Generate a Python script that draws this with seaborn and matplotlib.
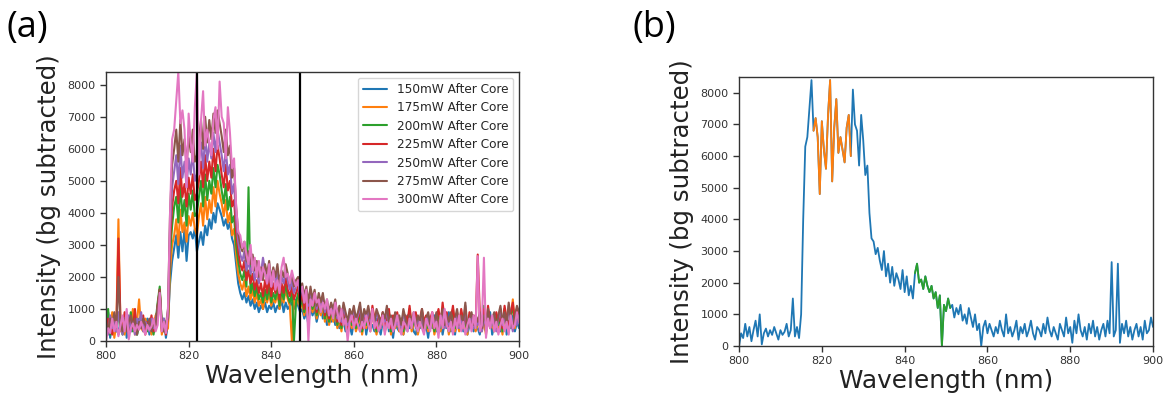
import numpy as np
import pandas as pd
import matplotlib
matplotlib.use("Agg")
import matplotlib.pyplot as plt
import seaborn as sns

# ---------------- data ----------------
wl_start, wl_stop, wl_step = 800.0, 900.0, 0.5
wavelength = np.arange(wl_start, wl_stop + wl_step / 2, wl_step)

labels = ["150mW After Core", "175mW After Core", "200mW After Core",
          "225mW After Core", "250mW After Core", "275mW After Core",
          "300mW After Core"]

p150 = [300, 900, 100, 600, 400, 700, 200, 500, 300, 800,
        100, 600, 300, 900, 500, 200, 700, 400, 600, 300,
        700, 200, 500, 300, 600, 1000, 1500, 400, 700, 100,
        600, 1800, 2500, 2900, 3300, 2600, 3400, 2800, 3500, 2500,
        3300, 3400, 3200, 3500, 2800, 3100, 3400, 3000, 3600, 3300,
        3800, 3500, 4000, 3700, 4300, 4100, 3900, 3600, 3800, 3500,
        3700, 3200, 3000, 2400, 1800, 1500, 1300, 1500, 1200, 1400,
        1100, 1300, 1000, 1200, 900, 1100, 1000, 1200, 900, 1100,
        1000, 1200, 900, 1100, 1000, 1300, 900, 1200, 1000, 1100,
        1200, 1000, 1300, 1100, 900, 1000, 700, 900, 500, 1100,
        800, 1000, 600, 900, 1100, 700, 900, 500, 800, 600,
        900, 500, 700, 400, 800, 600, 300, 700, 500, 200,
        600, 400, 700, 300, 500, 800, 200, 600, 400, 500,
        300, 700, 500, 200, 600, 400, 800, 300, 500, 100,
        600, 400, 300, 700, 200, 500, 800, 400, 600, 300,
        200, 600, 400, 700, 300, 500, 100, 600, 400, 800,
        300, 500, 700, 200, 600, 400, 900, 300, 500, 200,
        700, 400, 600, 300, 800, 200, 500, 700, 300, 600,
        400, 200, 700, 500, 300, 600, 900, 200, 500, 400,
        700, 300, 600, 1000, 200, 500, 400, 800, 300, 600,
        400]

p175 = [200, 600, 400, 900, 100, 500, 3800, 300, 700, 200,
        800, 300, 500, 1000, 200, 600, 1300, 400, 300, 700,
        400, 600, 200, 500, 800, 900, 1600, 200, 500, 300,
        400, 2200, 3000, 3300, 3800, 3000, 4100, 3400, 3700, 3100,
        3900, 3600, 4000, 3500, 3300, 3900, 4300, 3600, 4500, 3800,
        4400, 4000, 4800, 4200, 5000, 4600, 4300, 3900, 4400, 3700,
        4000, 3300, 3500, 2700, 2100, 1800, 1600, 1900, 1400, 1700,
        1300, 1600, 1200, 1500, 1100, 1300, 1000, 1400, 1200, 1500,
        1100, 1300, 1200, 1500, 1000, 1400, 1200, 1600, 1300, 1100,
        0, 1300, 1100, 1400, 1000, 1200, 800, 1100, 700, 1200,
        900, 1200, 700, 1000, 800, 1100, 600, 900, 500, 800,
        600, 900, 400, 700, 300, 800, 500, 200, 600, 400,
        700, 300, 500, 800, 200, 600, 400, 700, 300, 900,
        500, 200, 600, 400, 700, 300, 500, 800, 200, 600,
        400, 700, 300, 500, 200, 600, 400, 900, 300, 500,
        700, 200, 500, 800, 400, 600, 300, 500, 700, 200,
        500, 800, 300, 600, 400, 700, 200, 500, 900, 300,
        600, 300, 800, 400, 500, 200, 700, 400, 600, 300,
        500, 700, 300, 600, 200, 800, 400, 500, 300, 700,
        400, 600, 200, 900, 500, 300, 700, 1300, 400, 800,
        600]

p200 = [400, 1000, 200, 700, 500, 300, 800, 600, 200, 500,
        700, 400, 900, 300, 600, 200, 500, 800, 400, 600,
        300, 500, 700, 200, 600, 1200, 1700, 500, 300, 600,
        700, 2700, 3600, 4200, 4500, 3700, 4900, 3900, 4400, 3600,
        4600, 4100, 4700, 3900, 4000, 4500, 5000, 4200, 5200, 4400,
        5000, 4600, 5400, 4800, 5500, 5200, 4700, 4300, 4900, 4100,
        4500, 3700, 3900, 3000, 2500, 2100, 1900, 2200, 1700, 4800,
        1500, 1800, 1400, 1700, 1300, 1500, 1200, 1600, 1300, 1700,
        1200, 1500, 1300, 1700, 1100, 1600, 1300, 1800, 1400, 1200,
        1500, 0, 1200, 1500, 1100, 1300, 900, 1200, 800, 1300,
        1000, 1300, 800, 1100, 900, 1200, 700, 1000, 600, 900,
        700, 1000, 500, 800, 400, 900, 600, 300, 700, 500,
        800, 400, 600, 900, 300, 700, 500, 800, 400, 1000,
        600, 300, 700, 500, 800, 400, 600, 900, 300, 700,
        500, 800, 400, 600, 300, 700, 500, 1000, 400, 600,
        800, 300, 600, 900, 500, 700, 400, 600, 800, 300,
        600, 900, 400, 700, 500, 800, 300, 600, 1000, 400,
        700, 400, 900, 500, 600, 300, 800, 500, 700, 400,
        600, 800, 400, 1100, 300, 900, 500, 600, 400, 800,
        500, 700, 300, 1000, 600, 400, 800, 1100, 500, 900,
        700]

p225 = [300, 700, 500, 200, 800, 400, 3200, 600, 300, 900,
        500, 200, 700, 400, 1000, 300, 600, 500, 800, 200,
        600, 400, 800, 300, 500, 1100, 1600, 300, 600, 200,
        800, 3100, 4200, 4700, 5000, 4300, 5400, 4500, 4900, 4200,
        5100, 4600, 5200, 4400, 4600, 5000, 5600, 4800, 5800, 5000,
        5600, 5100, 6000, 5300, 6100, 5700, 5200, 4800, 5500, 4700,
        5000, 4200, 4400, 3400, 2800, 2400, 2200, 2500, 1900, 2200,
        1800, 2100, 1600, 1900, 1500, 1800, 1400, 1900, 1500, 2000,
        1400, 1800, 1500, 1900, 1300, 1800, 1500, 2000, 1600, 1400,
        1700, 1300, 1500, 1700, 1200, 1500, 1000, 1400, 900, 1500,
        1100, 1400, 900, 1200, 1000, 1300, 800, 1100, 700, 1000,
        800, 1100, 600, 900, 500, 1000, 700, 400, 800, 600,
        900, 500, 700, 1000, 400, 800, 600, 900, 500, 1100,
        700, 400, 800, 600, 900, 500, 700, 1000, 400, 800,
        600, 900, 500, 700, 400, 800, 600, 1100, 500, 700,
        900, 400, 700, 1000, 600, 800, 500, 700, 900, 400,
        700, 1000, 500, 1200, 600, 900, 400, 700, 1100, 500,
        800, 500, 1000, 600, 700, 400, 900, 600, 800, 500,
        2700, 900, 500, 1000, 400, 1100, 600, 700, 500, 900,
        600, 800, 400, 1100, 700, 500, 900, 1200, 600, 1000,
        800]

p250 = [500, 200, 800, 400, 600, 300, 900, 500, 200, 700,
        400, 800, 300, 600, 200, 700, 500, 900, 300, 600,
        500, 300, 700, 400, 600, 1000, 1500, 400, 700, 300,
        900, 3500, 4800, 5300, 5800, 4900, 6100, 5100, 5600, 4800,
        5700, 5200, 5900, 5000, 5200, 5600, 6200, 5400, 6400, 5600,
        6200, 5700, 6500, 5900, 6600, 6200, 5800, 5300, 6000, 5200,
        5500, 4600, 4900, 3800, 3100, 2700, 2500, 2800, 2200, 2500,
        2100, 2400, 1900, 2200, 1800, 2100, 2600, 2200, 1800, 2300,
        1700, 2100, 1800, 2200, 1600, 2000, 1800, 2200, 1900, 1600,
        1900, 1500, 1700, 1900, 1400, 1700, 1200, 1500, 1100, 1600,
        1200, 1500, 1000, 1300, 1100, 1400, 900, 1200, 800, 1100,
        900, 1200, 700, 1000, 600, 1100, 800, 500, 900, 700,
        1000, 600, 800, 1100, 500, 900, 700, 1000, 600, 800,
        500, 900, 700, 400, 800, 600, 1000, 500, 700, 300,
        800, 500, 700, 400, 900, 600, 300, 700, 500, 800,
        400, 700, 500, 900, 300, 600, 800, 400, 700, 500,
        800, 300, 600, 900, 400, 700, 500, 800, 300, 600,
        900, 400, 700, 500, 1100, 300, 600, 800, 400, 700,
        500, 800, 300, 700, 500, 900, 400, 600, 800, 300,
        700, 1000, 500, 800, 400, 1100, 600, 300, 700, 500,
        800]

p275 = [600, 300, 700, 500, 900, 400, 2000, 500, 300, 700,
        300, 600, 800, 400, 700, 200, 600, 400, 700, 500,
        400, 700, 300, 600, 400, 1100, 1600, 600, 300, 500,
        1000, 4000, 5500, 6000, 6600, 5600, 6900, 5800, 6300, 5500,
        6400, 5900, 6600, 5600, 5800, 6300, 6900, 6000, 7000, 6200,
        6900, 6300, 7100, 6500, 7200, 6800, 6400, 5900, 6600, 5800,
        6100, 5100, 5400, 4200, 3400, 3000, 2800, 3100, 2500, 2800,
        2400, 2700, 2200, 2500, 2000, 2300, 1900, 2400, 2100, 2500,
        1900, 2300, 2000, 2400, 1800, 2200, 2000, 2400, 2100, 1800,
        2100, 1700, 1900, 2000, 1600, 1800, 1400, 1700, 1200, 1700,
        1300, 1600, 1100, 1500, 1200, 1500, 1000, 1300, 900, 1200,
        1000, 1300, 800, 1100, 700, 1200, 900, 600, 1000, 800,
        1100, 700, 900, 1200, 600, 1000, 800, 1100, 700, 900,
        600, 1000, 800, 500, 900, 700, 1100, 600, 800, 400,
        900, 600, 800, 500, 1000, 700, 400, 800, 600, 900,
        500, 800, 600, 1000, 400, 700, 900, 500, 800, 600,
        900, 400, 700, 1000, 500, 800, 600, 900, 400, 700,
        1000, 500, 800, 600, 1200, 400, 700, 900, 500, 800,
        600, 900, 400, 800, 600, 1000, 500, 700, 900, 400,
        800, 1100, 600, 900, 500, 1200, 700, 400, 800, 1100,
        900]

p300 = [0, 400, 250, 700, 300, 600, 150, 500, 800, 300,
        1000, 50, 400, 550, 300, 500, 350, 600, 400, 200,
        500, 350, 450, 700, 300, 500, 1500, 300, 600, 250,
        1000, 4000, 6300, 6600, 7500, 8400, 6800, 7200, 6600, 4800,
        7100, 6200, 5600, 7300, 8400, 5200, 6900, 7800, 6100, 6600,
        6200, 5800, 6900, 7300, 6000, 8100, 7000, 6800, 5700, 7300,
        6500, 5400, 5700, 4200, 3400, 3300, 2900, 3100, 2700, 2400,
        3000, 2200, 2600, 2000, 2500, 1900, 2300, 2100, 1800, 2400,
        1700, 2200, 1600, 1900, 1500, 2300, 2600, 2000, 2100, 1800,
        2200, 1900, 1700, 1900, 1500, 1700, 1200, 1600, 0, 1300,
        1100, 1500, 1200, 1300, 900, 1200, 1000, 1300, 800, 1000,
        700, 1200, 900, 600, 1000, 500, 700, 0, 600, 800,
        400, 700, 500, 300, 600, 400, 800, 500, 300, 1000,
        400, 600, 300, 500, 800, 200, 600, 400, 700, 300,
        500, 800, 400, 200, 600, 500, 300, 700, 400, 900,
        500, 300, 600, 400, 200, 700, 500, 300, 900, 400,
        600, 100, 800, 400, 1000, 500, 300, 600, 200, 700,
        400, 800, 300, 600, 200, 500, 700, 300, 800, 400,
        2650, 300, 500, 2600, 100, 700, 400, 800, 300, 600,
        200, 500, 700, 300, 600, 200, 800, 400, 500, 900,
        600]

series_a = [p150, p175, p200, p225, p250, p275, p300]
cut_lines = [822, 847]              # vertical markers in panel (a)
orange_range = (818.0, 827.0)       # highlighted windows in panel (b)
green_range = (842.5, 851.0)
x_ticks = [800, 820, 840, 860, 880, 900]
y_ticks = [0, 1000, 2000, 3000, 4000, 5000, 6000, 7000, 8000]

# ---------------- style ----------------
sns.set_style("ticks")
plt.rcParams["font.family"] = ["DejaVu Sans"]
palette = sns.color_palette("tab10", 7)

fig = plt.figure(figsize=(11.64, 3.98), dpi=100)
axa = fig.add_axes([0.0911, 0.1432, 0.3548, 0.676])
axb = fig.add_axes([0.6349, 0.1307, 0.3557, 0.676])

# ---------------- panel (a) ----------------
for vals, lab, col in zip(series_a, labels, palette):
    df = pd.DataFrame({"Wavelength": wavelength, "Intensity": vals})
    sns.lineplot(data=df, x="Wavelength", y="Intensity", ax=axa, color=col,
                 lw=1.5, label=lab, sort=False, estimator=None)
for xv in cut_lines:
    axa.axvline(xv, color="black", lw=1.6)

axa.legend(loc="upper right", fontsize=8.7, frameon=True, handlelength=2.0,
           labelspacing=0.45, borderpad=0.4)

# ---------------- panel (b) ----------------
dfb = pd.DataFrame({"Wavelength": wavelength, "Intensity": p300})
sns.lineplot(data=dfb, x="Wavelength", y="Intensity", ax=axb,
             color=palette[0], lw=1.3, sort=False, estimator=None, legend=False)
m_or = (dfb["Wavelength"] >= orange_range[0]) & (dfb["Wavelength"] <= orange_range[1])
m_gr = (dfb["Wavelength"] >= green_range[0]) & (dfb["Wavelength"] <= green_range[1])
sns.lineplot(data=dfb[m_or], x="Wavelength", y="Intensity", ax=axb,
             color=palette[1], lw=1.3, sort=False, estimator=None, legend=False)
sns.lineplot(data=dfb[m_gr], x="Wavelength", y="Intensity", ax=axb,
             color=palette[2], lw=1.3, sort=False, estimator=None, legend=False)

for ax, ytop in ((axa, 8400), (axb, 8500)):
    ax.set_xlim(800, 900)
    ax.set_ylim(0, ytop)
    ax.set_xticks(x_ticks)
    ax.set_yticks(y_ticks)
    ax.tick_params(labelsize=8, colors="#333333", length=4, width=1)
    for sp in ax.spines.values():
        sp.set_color("#333333")
        sp.set_linewidth(1.0)
    ax.set_xlabel("Wavelength (nm)", fontsize=17.8, color="#222222", labelpad=2)
    ax.set_ylabel("Intensity (bg subtracted)", fontsize=17.6, color="#222222", labelpad=5)

fig.text(0.006, 0.975, "(a)", fontsize=26, va="top", ha="left", color="black",
         family=["Open Sans", "DejaVu Sans"])
fig.text(0.543, 0.975, "(b)", fontsize=26, va="top", ha="left", color="black",
         family=["Open Sans", "DejaVu Sans"])

fig.savefig("out.png", dpi=100)
